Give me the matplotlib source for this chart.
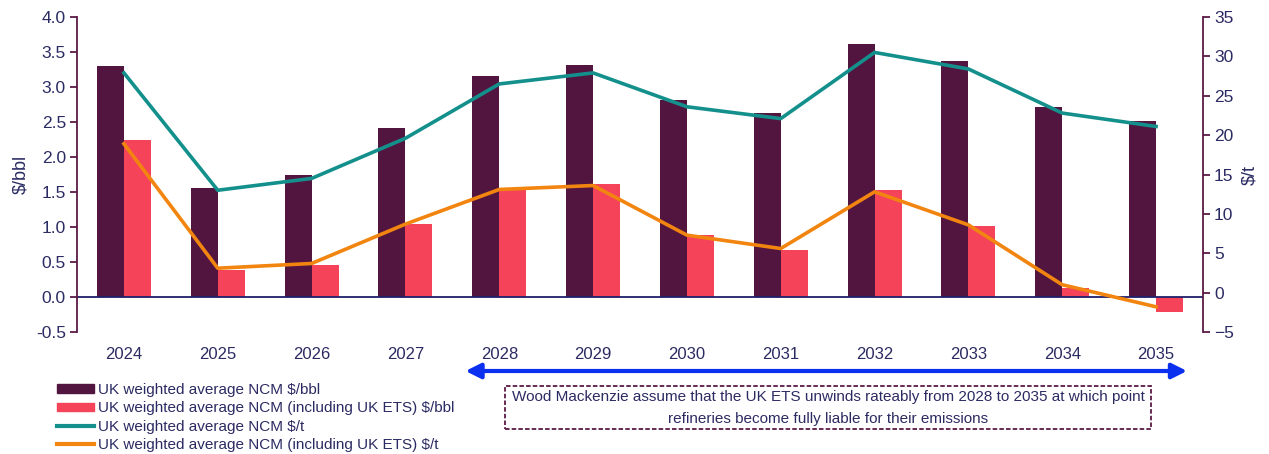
import numpy as np
import matplotlib.pyplot as plt
from matplotlib.patches import Patch, Rectangle
from matplotlib.lines import Line2D

plt.rcParams['font.family'] = ['Liberation Sans', 'DejaVu Sans']

# Datos
years = ['2024', '2025', '2026', '2027', '2028', '2029',
         '2030', '2031', '2032', '2033', '2034', '2035']
ncm_bbl = [3.30, 1.56, 1.74, 2.41, 3.16, 3.32, 2.82, 2.63, 3.62, 3.37, 2.72, 2.51]
ncm_ets_bbl = [2.24, 0.38, 0.46, 1.04, 1.54, 1.62, 0.89, 0.67, 1.53, 1.01, 0.13, -0.21]
ncm_t = [27.9, 13.0, 14.5, 19.6, 26.5, 27.9, 23.6, 22.1, 30.5, 28.4, 22.8, 21.1]
ncm_ets_t = [18.9, 3.1, 3.7, 8.7, 13.1, 13.6, 7.3, 5.6, 12.8, 8.6, 1.0, -1.8]

labels = ['UK weighted average NCM $/bbl',
          'UK weighted average NCM (including UK ETS) $/bbl',
          'UK weighted average NCM $/t',
          'UK weighted average NCM (including UK ETS) $/t']
nota = ('Wood Mackenzie assume that the UK ETS unwinds rateably from 2028 to 2035 at which point\n'
        'refineries become fully liable for their emissions')

# Colores
c_plum = '#521540'
c_pink = '#f5435a'
c_teal = '#14908c'
c_orange = '#f2850f'
c_text = '#2b2b63'
c_spine = '#5b1a45'
c_blue = '#0b30f0'

W, H = 1269, 454
fig = plt.figure(figsize=(W / 100, H / 100), dpi=100)
ax = fig.add_axes([77 / W, 1 - 332 / H, (1203 - 77) / W, (332 - 17) / H])
ax2 = ax.twinx()

x = np.arange(len(years))
w = 0.287
ax.bar(x - w / 2, ncm_bbl, w, color=c_plum)
ax.bar(x + w / 2, ncm_ets_bbl, w, color=c_pink)
ax.axhline(0, color='#1f1f6b', lw=1.3)

ax2.plot(x, ncm_t, color=c_teal, lw=2.6)
ax2.plot(x, ncm_ets_t, color=c_orange, lw=2.6)

ax.set_xlim(-0.5, 11.5)
ax.set_ylim(-0.5, 4.0)
ax2.set_ylim(-5, 35)
ax.set_yticks(np.arange(-0.5, 4.01, 0.5))
ax.set_yticklabels([f'{v:.1f}' for v in np.arange(-0.5, 4.01, 0.5)])
ax2.set_yticks(np.arange(-5, 36, 5))

ax.set_xticks(x)
ax.set_xticklabels(years)
ax.tick_params(axis='x', length=0, pad=11, labelsize=12, labelcolor=c_text)
ax.tick_params(axis='y', length=5, width=1.3, color=c_spine, labelsize=12.5, labelcolor=c_text, pad=3)
ax2.tick_params(axis='y', length=5, width=1.3, color=c_spine, labelsize=12.5, labelcolor=c_text, pad=3)

for a in (ax, ax2):
    a.spines['top'].set_visible(False)
    a.spines['bottom'].set_visible(False)
    a.spines['left'].set_color(c_spine)
    a.spines['right'].set_color(c_spine)
    a.spines['left'].set_linewidth(1.3)
    a.spines['right'].set_linewidth(1.3)
ax.spines['right'].set_visible(False)
ax2.spines['left'].set_visible(False)

ax.set_ylabel('$/bbl', fontsize=13, color=c_text, labelpad=5)
ax2.set_ylabel('$/t', fontsize=13, color=c_text, labelpad=5)

# Leyenda
handles = [Patch(color=c_plum), Patch(color=c_pink),
           Line2D([], [], color=c_teal, lw=3), Line2D([], [], color=c_orange, lw=3)]
fig.legend(handles, labels, loc='upper left', bbox_to_anchor=(57 / W, 1 - 383 / H),
           frameon=False, fontsize=11, handlelength=2.4, handleheight=0.5,
           handletextpad=0.3, labelspacing=0.28, borderpad=0, borderaxespad=0,
           labelcolor=c_text)

# Flecha de periodo de transicion
ax.annotate('', xy=(11.33, 1 - 371 / H), xytext=(3.64, 1 - 371 / H),
            xycoords=('data', 'figure fraction'), textcoords=('data', 'figure fraction'),
            annotation_clip=False,
            arrowprops=dict(arrowstyle='<|-|>,head_length=0.9,head_width=0.45',
                            color=c_blue, lw=3, shrinkA=0, shrinkB=0))

# Nota
fig.add_artist(Rectangle((505 / W, 1 - 429 / H), (1151 - 505) / W, (429 - 386) / H,
                         transform=fig.transFigure, fill=False, edgecolor=c_spine,
                         lw=1.3, linestyle=(0, (2.5, 1.2))))
fig.text(828 / W, 1 - 408 / H, nota, ha='center', va='center', fontsize=11,
         color=c_text, linespacing=1.75)

fig.savefig('out.png', dpi=100)
